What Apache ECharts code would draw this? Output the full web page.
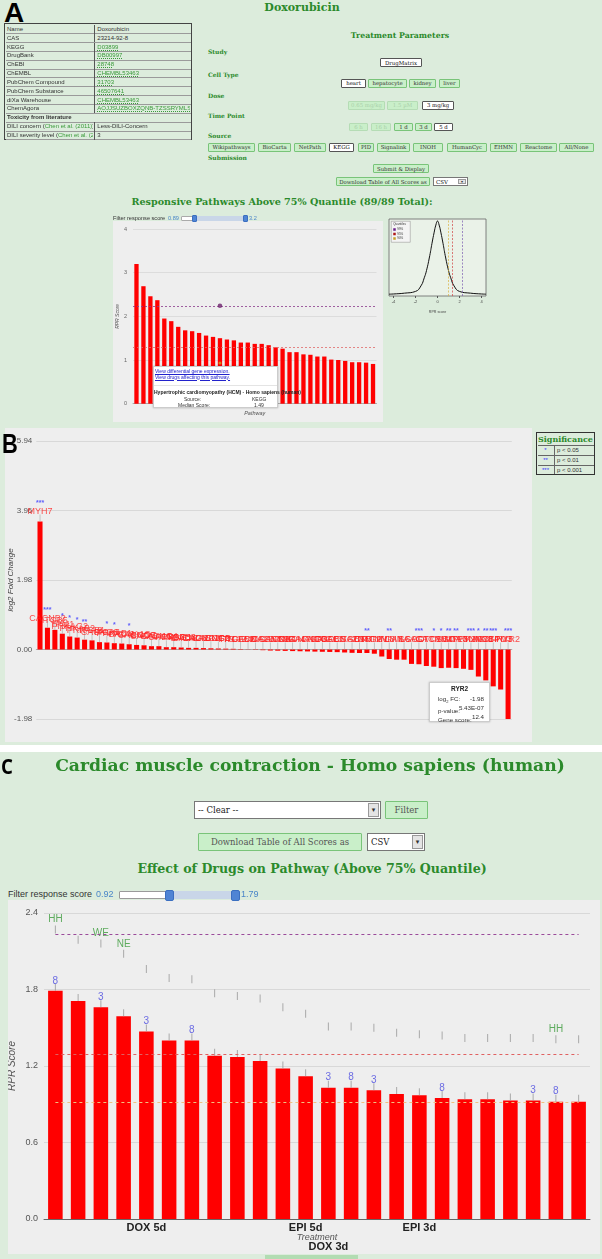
<!DOCTYPE html>
<html><head><meta charset="utf-8">
<script src="https://cdn.jsdelivr.net/npm/echarts@6.0.0/dist/echarts.min.js"></script>
<style>
html,body{margin:0;padding:0;}
body{width:602px;height:1259px;position:relative;overflow:hidden;background:#fff;font-family:"Liberation Sans",Arial,sans-serif;}
.a{position:absolute;box-sizing:border-box;}
.green{background:#dcecdc;}
.ttl{font-family:"DejaVu Serif",serif;font-weight:bold;color:#2b8a2b;text-align:center;white-space:nowrap;}
.lbl{font-family:"DejaVu Serif",serif;font-weight:bold;color:#2b8a2b;font-size:6px;white-space:nowrap;}
.btn{font-family:"DejaVu Serif",serif;font-size:5.4px;color:#333;background:#c9efc9;border:1px solid #79c479;border-radius:1px;white-space:nowrap;display:flex;align-items:center;justify-content:center;}
.btn.sel{background:#fff;border-color:#555;color:#111;}
.btn.dis{color:#a9cfa9;border-color:#b5dcb5;}
.sel2{background:#fff;border:1px solid #777;font-family:"DejaVu Serif",serif;color:#222;display:flex;align-items:center;white-space:nowrap;}
.arrow{position:absolute;right:1px;top:1px;bottom:1px;background:#e4e4e4;border:1px solid #999;display:flex;align-items:center;justify-content:center;color:#333;}
.letter{font-family:"Liberation Sans",Arial,sans-serif;font-weight:bold;color:#000;transform-origin:0 0;line-height:1;}
.row{font-size:6px;color:#333;white-space:nowrap;overflow:hidden;line-height:8.85px;}
.lnk{color:#3a9a3a;text-decoration:underline dotted;}
.gl{color:#3a9a3a;}
</style></head><body>
<div class="a green" style="left:0;top:0;width:602px;height:425px"></div>
<div class="a green" style="left:0;top:425px;width:602px;height:320px"></div>
<div class="a green" style="left:0;top:752px;width:602px;height:507px"></div>
<div id="chartA" class="a" style="left:113px;top:221px;width:270px;height:201px"></div>
<div id="chartInset" class="a" style="left:385px;top:215px;width:110px;height:105px"></div>
<div id="chartB" class="a" style="left:5px;top:428px;width:527px;height:314px"></div>
<div id="chartC" class="a" style="left:8px;top:900px;width:592px;height:354px"></div>
<script>
// ---------------- DATA ----------------
// Panel A: drug info table
const drugInfoKeys = ["Name","CAS","KEGG","DrugBank","ChEBI","ChEMBL","PubChem Compound","PubChem Substance","diXa Warehouse","ChemAgora","Toxicity from literature","DILI concern","DILI severity level"];
const drugInfoValues = ["Doxorubicin","23214-92-8","D03899","DB00997","28748","CHEMBL53463","31703","46507641","CHEMBL53463","AOJJSUZBOXZQNB-TZSSRYMLSA-N","","Less-DILI-Concern","3"];
// Panel A: responsive pathway scores (sorted)
const aPathwayScores = [3.20,2.69,2.46,2.37,1.95,1.89,1.76,1.68,1.66,1.62,1.56,1.53,1.50,1.47,1.45,1.40,1.40,1.37,1.37,1.34,1.29,1.26,1.18,1.18,1.13,1.12,1.08,1.08,1.01,1.00,0.98,0.95,0.95,0.94,0.91];
const aYTicks = [0,1,2,3,4];
const aQuantileNames = ["99%","95%","90%"];
const aQuantileValues = [2.24,1.29,0.93];
const aHoverIndex = 12;
// Panel A inset: RPR score density
const aDensityX = [-4.4,-4,-3,-2,-1.5,-1.2,-1,-0.7,-0.5,-0.3,-0.15,0,0.15,0.3,0.5,0.7,1,1.2,1.5,2,3,4,4.4];
const aDensityY = [1.8,2.0,2.8,4.5,10,18,25,40,52,63,70,74,70,63,52,40,25,18,10,4.5,2.8,2.0,1.8];
const aInsetTicks = [-4,-2,0,2,4];
const aInsetQuantiles = [2.26,1.34,1.0];
// Panel B: genes, log2 fold change, significance
const bGenes = ["MYH7","CACNB2","ITGB5","TPM1","PRKAG2","PRKAB2","PRKAA2","ITGB1","CACNG6","ITGA6","PRKAB1","ITGA9","CACNA1S","CACNG7","SGCG","CACNA1C","CACNG4","CACNB3","PRKAG1","TGFB3","CACNG8","CACNA2D3","CACNA1F","CACNG2","SGCB","TTN","ITGA2","TGFB2","EMD","CACNA2D2","ITGA5","CACNG1","CACNB4","TNF","ITGA4","CACNA1D","CACNG3","ITGA8","ACTG1","TGFB1","DES","CACNA2D4","ITGB6","ACTB","TNNT2","ITGAV","TNNI3","ITGA7","LMNA","IL6","SGCD","AGT","ACTC1","CACNB1","TPM4","SGCA","MYL3","TPM2","PRKAG3","TNNC1","ITGB4","MYBPC3","TPM3","RYR2"];
const bLog2FC = [3.65,0.62,0.56,0.45,0.37,0.34,0.28,0.26,0.21,0.20,0.18,0.17,0.15,0.13,0.12,0.095,0.095,0.066,0.066,0.057,0.047,0.047,0.04,0.035,0.03,0.025,0.02,0.012,0.006,-0.01,-0.02,-0.03,-0.035,-0.04,-0.045,-0.05,-0.055,-0.06,-0.065,-0.07,-0.075,-0.085,-0.095,-0.10,-0.10,-0.12,-0.20,-0.27,-0.29,-0.29,-0.41,-0.42,-0.47,-0.49,-0.53,-0.52,-0.53,-0.55,-0.58,-0.77,-0.88,-1.05,-1.14,-1.98];
const bSignif = ["***","***","","*","*","*","**","","","*","*","","*","","","","","","","","","","","","","","","","","","","","","","","","","","","","","","","","**","","","**","","","","***","","*","*","**","**","","***","*","**","***","","***"];
const bYTicks = [-1.98,0,1.98,3.96,5.94];
// Panel C: drugs on pathway
const cTreatmentLabels = ["","","","","DOX 5d","","","","","","","EPI 5d","DOX 3d","","","","EPI 3d","","","","","","",""];
const cRPR = [1.79,1.71,1.66,1.59,1.47,1.40,1.40,1.28,1.27,1.24,1.18,1.12,1.03,1.03,1.01,0.98,0.97,0.95,0.94,0.94,0.93,0.93,0.92,0.92];
const cUpper = [2.27,2.19,2.16,2.08,1.96,1.89,1.88,1.77,1.75,1.73,1.66,1.61,1.51,1.51,1.50,1.46,1.45,1.44,1.42,1.42,1.42,1.42,1.41,1.41];
const cBlueLabels = ["8","","3","","3","","8","","","","","","3","8","3","","","8","","","","3","8",""];
const cGreenLabels = ["HH","","WE","NE","","","","","","","","","","","","","","","","","","","HH",""];
const cQuantileValues = [2.233,1.294,0.918];
const cYTicks = [0,0.6,1.2,1.8,2.4];

// ---------------- HTML helpers ----------------
function el(cls, st, html){const d=document.createElement('div');d.className='a '+cls;for(const k in st){d.style[k]=(typeof st[k]==='number')?st[k]+'px':st[k];}d.innerHTML=html||'';document.body.appendChild(d);return d;}
function btn(x1,x2,y1,y2,t,s){el('btn'+(s?' '+s:''),{left:x1,top:y1,width:x2-x1,height:y2-y1},t);}

// Letters
el('letter',{left:4,top:-1,fontSize:28},'A');
el('letter',{left:2,top:430,fontSize:28,transform:'scaleX(0.78)'},'B');
el('letter',{left:1,top:754,fontSize:22,fontFamily:'"Open Sans",sans-serif',transform:'scaleX(0.85)'},'C');

// Drug table
(function(){
  const L=4,T=23.3,W=188,RH=8.85,DIV=90.3;
  el('',{left:L,top:T,width:W,height:RH*drugInfoKeys.length+2,border:'1.5px solid #444',background:'transparent'});
  drugInfoKeys.forEach((k,i)=>{
    const top=T+1.5+i*RH;
    el('',{left:L+1.5,top:top+RH-0.5,width:W-3,height:1,background:'#9a9a9a'});
    if(i===10){el('row',{left:L+3,top:top,width:W-6,height:RH,fontWeight:'bold'},k);return;}
    let key=k;
    if(i>=11) key=k+' (<span class="gl">Chen et al. (2011)</span>)';
    el('row',{left:L+3,top:top,width:DIV-4,height:RH},key);
    el('',{left:L+DIV,top:top,width:1,height:RH,background:'#555'});
    const v=drugInfoValues[i];
    el('row',{left:L+DIV+3,top:top,width:W-DIV-5,height:RH},(i>=2&&i<=9)?'<span class="lnk">'+v+'</span>':v);
  });
})();

// Panel A headings & parameters
el('ttl',{left:200,top:1,width:204,fontSize:11},'Doxorubicin');
el('ttl',{left:300,top:31,width:200,fontSize:7.8},'Treatment Parameters');
[['Study',48],['Cell Type',71],['Dose',91.5],['Time Point',111.5],['Source',131.5],['Submission',154]].forEach(p=>el('lbl',{left:208,top:p[1]},p[0]));
btn(380,422,58,67,'DrugMatrix','sel');
btn(341,366,79,87.5,'heart','sel');btn(368,407,79,87.5,'hepatocyte');btn(409,436,79,87.5,'kidney');btn(439,460,79,87.5,'liver');
btn(348,385,101,109.5,'0.65 mg/kg','dis');btn(387,418,101,109.5,'1.5 µM','dis');btn(422,454,101,109.5,'3 mg/kg','sel');
btn(349,368,122.5,131,'6 h','dis');btn(371,391,122.5,131,'16 h','dis');btn(394,413,122.5,131,'1 d');btn(415,432,122.5,131,'3 d');btn(434,453,122.5,131,'5 d','sel');
[[208,255,'Wikipathways'],[258,291,'BioCarta'],[294,326,'NetPath'],[329,354,'KEGG','sel'],[358,374,'PID'],[377,410,'Signalink'],[413,443,'INOH'],[447,487,'HumanCyc'],[490,517,'EHMN'],[520,557,'Reactome'],[559,594,'All/None']].forEach(b=>btn(b[0],b[1],142.5,151.5,b[2],b[3]));
btn(373,429,164,173,'Submit &amp; Display');
btn(336,430,177,186,'Download Table of All Scores as');
el('sel2',{left:433,top:177,width:35,height:9,fontSize:5.5,paddingLeft:2},'CSV<span class="arrow" style="width:6px;font-size:4px">▾</span>');
el('ttl',{left:100,top:196,width:364,fontSize:9.6},'Responsive Pathways Above 75% Quantile (89/89 Total):');
// slider A
el('',{left:113,top:214.5,fontSize:5.6,color:'#333',whiteSpace:'nowrap'},'Filter response score');
el('',{left:168,top:214.5,fontSize:5.6,color:'#4a86c8'},'0.89');
el('',{left:181,top:215.5,width:66,height:5.5,background:'#fff',border:'1px solid #aaa',borderRadius:'1px'});
el('',{left:195,top:215.5,width:50,height:5.5,background:'#c9d6e8'});
el('',{left:192,top:214.5,width:5,height:7.5,background:'#4f84d4',border:'1px solid #3b6fc0',borderRadius:'1px'});
el('',{left:243,top:214.5,width:5,height:7.5,background:'#4f84d4',border:'1px solid #3b6fc0',borderRadius:'1px'});
el('',{left:249,top:214.5,fontSize:5.6,color:'#4a86c8'},'3.2');

// Panel B significance table
(function(){
  const L=536,T=432,W=59;
  el('',{left:L,top:T,width:W,height:43,border:'1.5px solid #333',background:'#dcecdc'});
  el('ttl',{left:L,top:T+1.5,width:W,fontSize:8},'Significance');
  const rows=[['*','p &lt; 0.05'],['**','p &lt; 0.01'],['***','p &lt; 0.001']];
  rows.forEach((r,i)=>{
    const y=T+13+i*9.8;
    el('',{left:L+1.5,top:y,width:W-3,height:1,background:'#666'});
    el('',{left:L+1.5,top:y+1,width:16,height:8.8,color:'#3333ff',fontSize:6,textAlign:'center',lineHeight:'8px'},r[0]);
    el('',{left:L+17.5,top:y,width:1,height:9.8,background:'#666'});
    el('',{left:L+21,top:y+1,height:8.8,color:'#333',fontSize:6,lineHeight:'8.8px',whiteSpace:'nowrap'},r[1]);
  });
})();

// white gap between B and C
el('',{left:0,top:745,width:602,height:7,background:'#fff'});

// Panel C headings & controls
el('ttl',{left:0,top:755,width:620,fontSize:17.2},'Cardiac muscle contraction - Homo sapiens (human)');
el('sel2',{left:194,top:801,width:187,height:18,fontSize:8.5,paddingLeft:3},'-- Clear --<span class="arrow" style="width:9px;font-size:7px">▾</span>');
el('btn',{left:385,top:801,width:43,height:18,fontSize:8.5,color:'#555'},'Filter');
el('btn',{left:198,top:833,width:164,height:18,fontSize:8.5,color:'#555'},'Download Table of All Scores as');
el('sel2',{left:367,top:833,width:58,height:18,fontSize:8.5,paddingLeft:3},'CSV<span class="arrow" style="width:9px;font-size:7px">▾</span>');
el('ttl',{left:0,top:861,width:624,fontSize:12.6},'Effect of Drugs on Pathway (Above 75% Quantile)');
el('',{left:8,top:889,fontSize:9,color:'#333',whiteSpace:'nowrap'},'Filter response score');
el('',{left:96,top:889,fontSize:9,color:'#4a86c8'},'0.92');
el('',{left:119,top:891,width:120,height:8,background:'#fff',border:'1px solid #999',borderRadius:'1px'});
el('',{left:170,top:891,width:66,height:8,background:'#c9d6e8'});
el('',{left:165,top:889.5,width:9,height:11,background:'#4f84d4',border:'1px solid #3b6fc0',borderRadius:'2px'});
el('',{left:231,top:889.5,width:9,height:11,background:'#4f84d4',border:'1px solid #3b6fc0',borderRadius:'2px'});
el('',{left:241,top:889,fontSize:9,color:'#4a86c8'},'1.79');
el('',{left:265,top:1255,width:93,height:4,background:'#b2dcb2'});

// ---------------- CHARTS ----------------
// Chart A
const chartA = echarts.init(document.getElementById('chartA'));
chartA.setOption({
  animation:false, backgroundColor:'#eeeeee',
  grid:{left:20,right:6.5,top:8,bottom:18.3,outerBoundsMode:'none',containLabel:false},
  xAxis:{type:'category',data:aPathwayScores.map((_,i)=>'P'+(i+1)),axisLabel:{show:false},axisTick:{show:false},
    axisLine:{lineStyle:{color:'#aaa'}},name:'Pathway',nameLocation:'middle',nameGap:7,nameMoveOverlap:false,
    nameTextStyle:{fontSize:5.5,fontStyle:'italic',color:'#555'}},
  yAxis:{type:'value',min:aYTicks[0],max:aYTicks[aYTicks.length-1],interval:1,
    axisLabel:{fontSize:5.5,color:'#666',margin:6},splitLine:{lineStyle:{color:'#dcdcdc'}},
    name:'RPR Score',nameLocation:'middle',nameGap:13,nameMoveOverlap:false,nameTextStyle:{fontSize:5,fontStyle:'italic',color:'#555'}},
  series:[
    {type:'bar',data:aPathwayScores,barWidth:'62%',itemStyle:{color:'#ff0000'},
     markLine:{silent:true,symbol:'none',label:{show:false},
       data:[{yAxis:aQuantileValues[0],lineStyle:{color:'#8a3a8a',type:[2,2],width:0.8}},
             {yAxis:aQuantileValues[1],lineStyle:{color:'#e06a6a',type:[2,2],width:0.8}}]}},
    {type:'scatter',data:[[aHoverIndex,aQuantileValues[0]]],symbolSize:4.5,itemStyle:{color:'#6a1f6a'},z:5},
    {type:'scatter',data:[[aHoverIndex,aQuantileValues[2]]],symbolSize:3,itemStyle:{color:'#d4a020'},z:5}
  ]
});

// Inset density
const chartInset = echarts.init(document.getElementById('chartInset'));
chartInset.setOption({
  animation:false,
  grid:{left:4,right:9,top:4,bottom:24,show:true,borderColor:'#666',borderWidth:0.8,backgroundColor:'#eaf2e8',outerBoundsMode:'none',containLabel:false},
  xAxis:{type:'value',min:-4.4,max:4.4,axisLine:{show:false},splitLine:{show:false},
    axisTick:{customValues:aInsetTicks,length:2,lineStyle:{color:'#555'}},
    axisLabel:{customValues:aInsetTicks,fontSize:4,color:'#444',margin:4},
    name:'RPR score',nameLocation:'middle',nameGap:14,nameMoveOverlap:false,nameTextStyle:{fontSize:3.6,color:'#444'}},
  yAxis:{type:'value',min:0,max:76,show:false},
  graphic:[{type:'group',left:6,top:6,children:[
    {type:'rect',shape:{x:0,y:0,width:19,height:21},style:{fill:'#f4f4f4',stroke:'#888',lineWidth:0.5}},
    {type:'text',x:2,y:1.5,style:{text:'Quantiles',fontSize:3,fill:'#333'}},
    {type:'rect',shape:{x:2,y:7,width:2.5,height:2.5},style:{fill:'#6a1f8a'}},
    {type:'text',x:6,y:6.6,style:{text:aQuantileNames[0],fontSize:3,fill:'#333'}},
    {type:'rect',shape:{x:2,y:11.5,width:2.5,height:2.5},style:{fill:'#b01818'}},
    {type:'text',x:6,y:11.1,style:{text:aQuantileNames[1],fontSize:3,fill:'#333'}},
    {type:'rect',shape:{x:2,y:16,width:2.5,height:2.5},style:{fill:'#c8a028'}},
    {type:'text',x:6,y:15.6,style:{text:aQuantileNames[2],fontSize:3,fill:'#333'}}
  ]}],
  series:[{type:'line',data:aDensityX.map((x,i)=>[x,aDensityY[i]]),smooth:0.5,showSymbol:false,
    lineStyle:{color:'#111',width:1},
    markLine:{silent:true,symbol:'none',label:{show:false},
      data:[{xAxis:aInsetQuantiles[0],lineStyle:{color:'#7a5ab0',type:[2,1.5],width:0.7}},
            {xAxis:aInsetQuantiles[1],lineStyle:{color:'#d04040',type:[2,1.5],width:0.7}},
            {xAxis:aInsetQuantiles[2],lineStyle:{color:'#d8b040',type:[2,1.5],width:0.7}}]}}]
});

// Chart B
const chartB = echarts.init(document.getElementById('chartB'));
chartB.setOption({
  animation:false, backgroundColor:'#eeeeee',
  grid:{left:31.3,right:20.2,top:13,bottom:23,outerBoundsMode:'none',containLabel:false},
  xAxis:{type:'category',data:bGenes,axisLabel:{show:false},axisTick:{show:false},
    axisLine:{onZero:true,lineStyle:{color:'#aaa'}}},
  yAxis:{type:'value',min:bYTicks[0],max:bYTicks[bYTicks.length-1],interval:1.98,
    axisLabel:{fontSize:8,color:'#555',margin:4,formatter:v=>v.toFixed(2)},
    splitLine:{lineStyle:{color:'#d8d8d8'}},
    name:'log2 Fold Change',nameLocation:'middle',nameGap:22,nameMoveOverlap:false,nameTextStyle:{fontSize:8,fontStyle:'italic',color:'#444'}},
  series:[
    {type:'bar',data:bLog2FC,barWidth:'68%',itemStyle:{color:'#ff0000'}},
    {type:'scatter',data:bLog2FC.map((v,i)=>[i,Math.max(v,0)]),symbol:'rect',symbolSize:[0.8,7],symbolOffset:[0,-3.5],
     itemStyle:{color:'#aaaaaa'},z:3,
     label:{show:true,position:'top',distance:-2.5,
       formatter:p=>(bSignif[p.dataIndex]?'{s|'+bSignif[p.dataIndex]+'}\n':'')+'{g|'+bGenes[p.dataIndex]+'}',
       rich:{s:{color:'#3a3aff',fontSize:7,lineHeight:7,fontWeight:'bold'},g:{color:'#ff2222',fontSize:9,lineHeight:10}}}}
  ]
});

// Chart C
const chartC = echarts.init(document.getElementById('chartC'));
chartC.setOption({
  animation:false, backgroundColor:'#eeeeee',
  grid:{left:36,right:10,top:13,bottom:35,outerBoundsMode:'none',containLabel:false},
  xAxis:{type:'category',data:cTreatmentLabels,axisTick:{show:false},axisLine:{lineStyle:{color:'#666'}},
    axisLabel:{interval:0,fontSize:11,fontWeight:'bold',color:'#222',margin:-1,lineHeight:19,
      formatter:(v,i)=>(i>0&&cTreatmentLabels[i-1]&&v)?'\n'+v:v},
    name:'Treatment',nameLocation:'middle',nameGap:14,nameMoveOverlap:false,nameTextStyle:{fontSize:9,fontStyle:'italic',color:'#555'}},
  yAxis:{type:'value',min:cYTicks[0],max:cYTicks[cYTicks.length-1],interval:0.6,
    axisLabel:{fontSize:9,color:'#555',margin:6,formatter:v=>v.toFixed(1)},
    splitLine:{lineStyle:{color:'#d8d8d8'}},
    name:'RPR Score',nameLocation:'middle',nameGap:27,nameMoveOverlap:false,nameTextStyle:{fontSize:10,fontStyle:'italic',color:'#555'}},
  series:[
    {type:'bar',data:cRPR,barWidth:'64%',itemStyle:{color:'#ff0000'},
     markLine:{silent:true,symbol:'none',label:{show:false},
       data:[[{coord:[0,cQuantileValues[0]]},{coord:[cRPR.length-1,cQuantileValues[0]],lineStyle:{color:'#9a4a9a',type:[3,3],width:1}}],
             [{coord:[0,cQuantileValues[1]]},{coord:[cRPR.length-1,cQuantileValues[1]],lineStyle:{color:'#e06060',type:[3,3],width:1}}],
             [{coord:[0,cQuantileValues[2]]},{coord:[cRPR.length-1,cQuantileValues[2]],lineStyle:{color:'#f0c080',type:[3,3],width:1}}]]}},
    {type:'scatter',data:cRPR.map((v,i)=>[i,v]),symbol:'rect',symbolSize:[1,7],symbolOffset:[0,-3.5],
     itemStyle:{color:'#999'},z:3,
     label:{show:true,position:'top',distance:-2,formatter:p=>cBlueLabels[p.dataIndex],color:'#4a4ae0',fontSize:10}},
    {type:'scatter',data:cUpper.map((v,i)=>[i,v]),symbol:'rect',symbolSize:[1,8],
     itemStyle:{color:'#999'},z:3,
     label:{show:true,position:'top',distance:1,formatter:p=>cGreenLabels[p.dataIndex],color:'#3a9a3a',fontSize:10}}
  ]
});

// Tooltip overlays
el('',{left:153,top:366,width:125,height:42,background:'#fff',border:'1px solid #ccc',boxShadow:'0 0 2px rgba(0,0,0,0.25)',zIndex:10},
 '<div style="position:absolute;left:1px;top:2px;font-size:5px;line-height:5.5px;color:#2222cc;text-decoration:underline;white-space:nowrap">View differential gene expression.<br>View drugs affecting this pathway.</div>'+
 '<div style="position:absolute;left:0;right:0;top:18px;border-top:1px solid #e4e4e4"></div>'+
 '<div style="position:absolute;left:0;right:0;top:22px;text-align:center;font-size:5px;font-weight:bold;color:#222;white-space:nowrap">Hypertrophic cardiomyopathy (HCM) - Homo sapiens (human)</div>'+
 '<div style="position:absolute;left:30px;top:29px;font-size:5px;color:#333;white-space:nowrap">Source:</div><div style="position:absolute;left:98px;top:29px;font-size:5px;color:#333">KEGG</div>'+
 '<div style="position:absolute;left:24px;top:35px;font-size:5px;color:#333;white-space:nowrap">Median Score:</div><div style="position:absolute;left:100px;top:35px;font-size:5px;color:#333">1.49</div>');
el('',{left:429,top:682,width:61,height:40,background:'#fff',border:'1px solid #ccc',boxShadow:'0 0 2px rgba(0,0,0,0.25)',zIndex:10},
 '<div style="position:absolute;left:0;right:0;top:2px;text-align:center;font-size:6.5px;font-weight:bold;color:#222">RYR2</div>'+
 '<div style="position:absolute;left:8px;top:11px;font-size:6.2px;line-height:9px;color:#333;white-space:nowrap">log<sub style="font-size:4px">2</sub> FC:<br>p-value:<br>Gene score:</div>'+
 '<div style="position:absolute;right:5px;top:11px;font-size:6.2px;line-height:9px;color:#333;text-align:right;white-space:nowrap">-1.98<br>5.43E-07<br>12.4</div>');
</script>
</body></html>
